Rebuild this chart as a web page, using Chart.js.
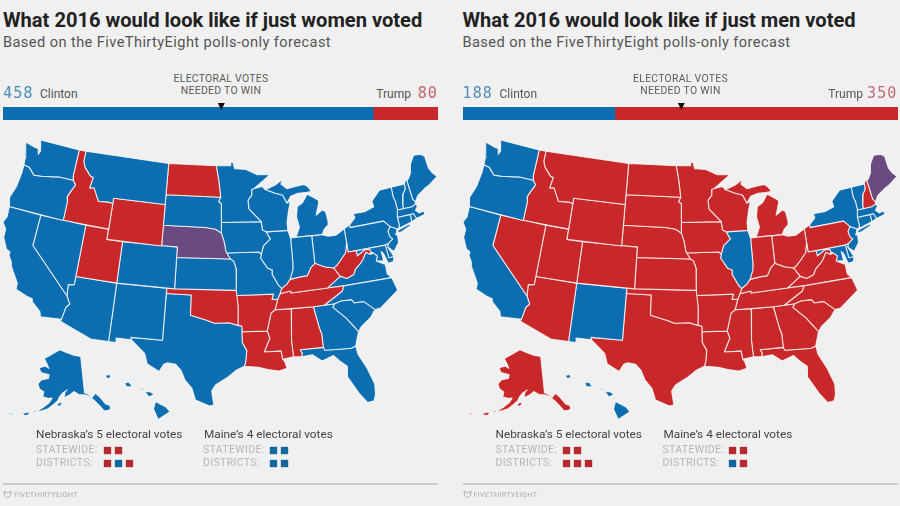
<!DOCTYPE html>
<html lang="en">
<head>
<meta charset="UTF-8">
<title>What 2016 would look like</title>
<style>
  html, body { margin: 0; padding: 0; background: #f0f0f0; }
  body { width: 900px; height: 506px; overflow: hidden; position: relative; font-family: Roboto, sans-serif; }
  .panel { position: absolute; top: 0; width: 440px; height: 506px; }
  .panel div, .panel canvas, .panel svg { position: absolute; white-space: nowrap; }
  .title { left: 3px; top: 7px; font-size: 20.1px; font-weight: 700; color: #222; line-height: 26px; }
  .sub { left: 3px; top: 33px; font-size: 14.6px; color: #555; letter-spacing: .42px; line-height: 18px; }
  .num { top: 84px; font-family: "DejaVu Sans Mono", monospace; font-size: 15px; letter-spacing: 1.1px; line-height: 18px; }
  .name { top: 87px; font-size: 12px; color: #555; line-height: 14px; }
  .needed { left: 151px; width: 140px; top: 73px; text-align: center; font-size: 10.4px; letter-spacing: .3px; color: #5c5c5c; line-height: 11.5px; }
  .lghead { top: 427px; font-size: 11.8px; color: #444; line-height: 14px; }
  .lgrow { font-size: 10.5px; color: #b5b5b5; letter-spacing: .35px; line-height: 12px; }
  .rule { left: 3px; top: 483px; width: 435px; height: 2px; background: #cbcbcb; }
  .brand { left: 14px; top: 490px; font-size: 7.4px; color: #aaa; letter-spacing: .2px; line-height: 10px; }
</style>
</head>
<body>
<script src="https://cdn.jsdelivr.net/npm/chart.js"></script>
<script>
// state outlines, lon/lat pairs
const WA = [-124.7,48.4,-123.2,48.15,-122.75,48.15,-122.5,47.6,-122.35,47.95,-122.5,48.5,-122.8,49,-117.03,49,-117.04,46.42,-116.92,45.99,-118.98,46,-119.3,45.93,-121.2,45.65,-122.3,45.55,-122.8,45.9,-123.2,46.15,-124,46.25,-124.1,46.9]
const OR = [-124,46.25,-123.2,46.15,-122.8,45.9,-122.3,45.55,-121.2,45.65,-119.3,45.93,-118.98,46,-116.92,45.99,-116.46,45.6,-116.85,45,-117.22,44.3,-117.03,43.8,-117.03,42,-124.21,42,-124.55,42.84,-124.1,44,-123.95,45.5]
const CA = [-124.21,42,-120,42,-120,39,-114.63,35,-114.13,34.3,-114.5,33.9,-114.72,32.72,-117.12,32.53,-117.3,33,-118.4,33.75,-118.5,34.03,-119.2,34.15,-120.6,34.55,-120.65,35.15,-121.9,36.6,-122,36.95,-122.5,37.5,-122.5,37.85,-123,38,-123.75,39,-123.8,39.8,-124.4,40.4,-124.1,41]
const NV = [-120,42,-114.04,42,-114.04,36.2,-114.74,36.1,-114.63,35,-120,39]
const ID = [-117.03,49,-116.05,49,-116.05,48,-115.7,47.45,-114.7,46.7,-114.3,46.65,-114.5,45.55,-113.9,45.65,-113.45,45.05,-113,44.45,-111.5,44.55,-111.05,44.48,-111.05,42,-117.03,42,-117.03,43.8,-117.22,44.3,-116.85,45,-116.46,45.6,-116.92,45.99,-117.04,46.42]
const MT = [-116.05,49,-104.05,49,-104.05,45,-111.05,45,-111.05,44.48,-111.5,44.55,-113,44.45,-113.45,45.05,-113.9,45.65,-114.5,45.55,-114.3,46.65,-114.7,46.7,-115.7,47.45,-116.05,48]
const WY = [-111.05,45,-104.05,45,-104.05,41,-111.05,41]
const UT = [-114.04,42,-111.05,42,-111.05,41,-109.05,41,-109.05,37,-114.04,37]
const CO = [-109.05,41,-102.05,41,-102.05,37,-109.05,37]
const AZ = [-114.04,37,-109.05,37,-109.05,31.33,-111.07,31.33,-114.8,32.5,-114.72,32.72,-114.5,33.9,-114.13,34.3,-114.63,35,-114.74,36.1,-114.04,36.2]
const NM = [-109.05,37,-103,37,-103.04,32,-106.62,32,-106.53,31.78,-108.2,31.78,-108.2,31.33,-109.05,31.33]
const ND = [-104.05,49,-97.23,49,-96.85,47.6,-96.56,45.94,-104.05,45.94]
const SD = [-104.05,45.94,-96.56,45.94,-96.85,45.5,-96.45,45.3,-96.45,42.49,-97.2,42.85,-98.5,43,-104.05,43]
const NE = [-104.05,43,-98.5,43,-97.2,42.85,-96.45,42.49,-96.1,41.7,-95.85,40.7,-95.31,40,-102.05,40,-102.05,41,-104.05,41]
const KS = [-102.05,40,-95.31,40,-94.9,39.8,-94.61,39.1,-94.62,37,-102.05,37]
const OK = [-103,37,-94.62,37,-94.43,35.4,-94.48,33.64,-95.5,33.9,-97.2,33.85,-98.1,34.13,-100,34.56,-100,36.5,-103,36.5]
const TX = [-103,36.5,-100,36.5,-100,34.56,-98.1,34.13,-97.2,33.85,-95.5,33.9,-94.48,33.64,-94.04,33.55,-94.04,31.99,-93.55,31.2,-93.7,30.1,-93.85,29.7,-94.7,29.35,-95.6,28.7,-97,27.9,-97.4,27.3,-97.15,25.96,-97.6,25.85,-99.1,26.4,-99.5,27.5,-100.3,28.3,-100.8,29.25,-101.4,29.77,-102.3,29.88,-102.7,29.7,-103.15,28.98,-104.5,29.6,-104.9,30.6,-106.53,31.78,-106.62,32,-103.04,32]
const MN = [-97.23,49,-95.15,49,-95.15,49.38,-94.8,49.3,-94.6,48.72,-93,48.6,-91.4,48.05,-89.6,48,-92,46.7,-92.3,46.65,-92.3,46.1,-92.85,45.6,-92.75,44.75,-91.2,43.5,-96.45,43.5,-96.45,45.3,-96.85,45.5,-96.56,45.94,-96.85,47.6]
const IA = [-96.45,43.5,-91.2,43.5,-91.1,42.7,-90.64,42.5,-90.15,41.8,-91.05,41.2,-91.4,40.4,-91.7,40.6,-95.77,40.58,-95.85,40.7,-96.1,41.7,-96.45,42.49]
const MO = [-95.77,40.58,-91.7,40.6,-91.4,40.4,-91.5,40,-90.7,39,-90.15,38.8,-90.2,38.4,-89.5,37.3,-89.15,36.98,-89.4,36.5,-89.7,36,-90.37,36,-90.15,36.5,-94.62,36.5,-94.62,37,-94.61,39.1,-94.9,39.8,-95.31,40]
const AR = [-94.62,36.5,-90.15,36.5,-90.37,36,-89.7,36,-90.1,35,-90.6,34.7,-91.15,33,-94.04,33.02,-94.04,33.55,-94.48,33.64,-94.43,35.4]
const LA = [-94.04,33.02,-91.15,33,-90.9,32.3,-91.6,31,-89.73,31,-89.6,30.2,-89.4,30,-89.2,29.3,-90.1,29.1,-91.3,29.3,-92.3,29.55,-93.85,29.7,-93.7,30.1,-93.55,31.2,-94.04,31.99]
const WI = [-92,46.7,-90.8,46.9,-90.4,46.55,-89.1,46.15,-88.1,45.9,-87.6,45.1,-87.1,45.3,-87.5,44.3,-87.8,43.3,-87.8,42.49,-90.64,42.5,-91.1,42.7,-91.2,43.5,-92.75,44.75,-92.85,45.6,-92.3,46.1,-92.3,46.65]
const IL = [-90.64,42.5,-87.8,42.49,-87.53,41.7,-87.53,39.35,-87.6,38.7,-88.05,37.8,-88.45,37.4,-89.15,36.98,-89.5,37.3,-90.2,38.4,-90.15,38.8,-90.7,39,-91.5,40,-91.4,40.4,-91.05,41.2,-90.15,41.8]
const IN = [-87.53,41.7,-87.2,41.76,-84.8,41.76,-84.82,39.1,-85.4,38.7,-85.9,38,-86.8,37.95,-88.05,37.8,-87.6,38.7,-87.53,39.35]
const OH = [-84.8,41.72,-83.45,41.73,-82.7,41.5,-81.7,41.5,-80.52,41.98,-80.52,40.64,-80.85,39.7,-81.7,39,-82.2,38.6,-82.6,38.42,-83.7,38.65,-84.82,39.1]
const MI_LOWER = [-86.82,41.76,-83.45,41.73,-83.1,42.2,-82.5,42.6,-82.45,43,-82.6,43.9,-83,44.07,-83.9,43.65,-83.3,44.9,-83.4,45.1,-84.75,45.78,-85.5,45,-86.25,44.7,-86.5,43.7,-86.25,42.7]
const MI_UPPER = [-90.4,46.55,-89.1,46.15,-88.1,45.9,-87.6,45.1,-87,45.75,-86,45.95,-84.75,45.95,-84.1,46,-84.5,46.45,-85,46.75,-86.1,46.65,-87.4,46.5,-88.2,47,-87.9,47.45,-89,46.95]
const KY = [-89.15,36.98,-88.45,37.4,-88.05,37.8,-86.8,37.95,-85.9,38,-85.4,38.7,-84.82,39.1,-83.7,38.65,-82.6,38.42,-81.97,37.54,-83.68,36.6,-88.07,36.5,-88.07,36.68,-89.4,36.5]
const TN = [-90.1,35,-89.7,36,-89.4,36.5,-88.07,36.68,-88.07,36.5,-83.68,36.6,-81.68,36.59,-82,36.1,-84.32,35,-85.6,34.98,-88.2,35]
const MS = [-90.1,35,-88.2,35,-88.47,31.9,-88.4,30.37,-89.6,30.2,-89.73,31,-91.6,31,-90.9,32.3,-91.15,33,-90.6,34.7]
const AL = [-88.2,35,-85.6,34.98,-85.18,32.87,-85,32.3,-85,31,-87.6,31,-87.4,30.65,-87.5,30.3,-88.4,30.37,-88.47,31.9]
const GA = [-85.6,34.98,-83.1,35,-83.35,34.7,-82,33.5,-81.2,32.5,-80.85,32.03,-81.4,30.72,-82,30.55,-82.2,30.57,-84.86,30.7,-85,31,-85,32.3,-85.18,32.87]
const FL = [-87.6,31,-85,31,-84.86,30.7,-82.2,30.57,-82,30.55,-81.4,30.72,-81.3,29.9,-80.55,28.4,-80.03,26.8,-80.15,25.75,-80.4,25.2,-81.1,25.13,-81.8,26.1,-82.75,27.8,-82.65,28.9,-83.4,29.5,-84,30.1,-85.3,29.7,-86.3,30.4,-87.5,30.3,-87.4,30.65]
const SC = [-83.35,34.7,-83.1,35,-82.3,35.2,-81.05,35.15,-80.8,34.82,-79.67,34.8,-78.55,33.86,-79.2,33.2,-80.4,32.5,-80.85,32.03,-81.2,32.5,-82,33.5]
const NC = [-84.32,35,-82,36.1,-81.68,36.59,-75.87,36.55,-75.5,35.25,-76.5,34.7,-77.9,33.9,-78.55,33.86,-79.67,34.8,-80.8,34.82,-81.05,35.15,-82.3,35.2,-83.1,35]
const VA = [-83.68,36.6,-81.97,37.54,-81.2,37.25,-80.3,37.5,-79.95,38,-79.3,38.42,-78.87,38.76,-78.35,39.39,-77.83,39.13,-77.45,39.2,-77.05,38.85,-77.3,38.4,-76.3,37.9,-76.3,37,-75.87,36.55,-81.68,36.59]
const WV = [-82.6,38.42,-82.2,38.6,-81.7,39,-80.85,39.7,-80.52,40.64,-80.52,39.72,-79.48,39.72,-79.48,39.2,-78.4,39.65,-77.83,39.6,-77.72,39.32,-77.83,39.13,-78.35,39.39,-78.87,38.76,-79.3,38.42,-79.95,38,-80.3,37.5,-81.2,37.25,-81.97,37.54]
const MD = [-79.48,39.72,-75.79,39.72,-75.7,38.46,-75.05,38.45,-75.25,38.03,-75.9,37.95,-76.2,38.9,-76.45,39.2,-76.4,38.3,-77.3,38.4,-77.05,38.85,-77.45,39.2,-77.72,39.32,-77.83,39.6,-78.4,39.65,-79.48,39.2]
const DE = [-75.79,39.72,-75.4,39.8,-75.55,39.5,-75.05,38.45,-75.7,38.46]
const PA = [-80.52,41.98,-79.76,42.27,-79.76,42,-75.35,42,-74.7,41.36,-75.1,40.95,-75,40.4,-74.72,40.15,-75.4,39.8,-75.79,39.72,-80.52,39.72,-80.52,40.64]
const NY = [-79.76,42.27,-78.9,42.85,-79.05,43.27,-77.5,43.25,-76.2,43.55,-76.3,44.1,-75,44.98,-73.35,45.01,-73.4,44,-73.25,43.55,-73.27,42.75,-73.5,42.05,-73.49,41.2,-73.73,40.98,-73.9,41,-74.7,41.36,-75.35,42,-79.76,42]
const LI = [-74.03,40.62,-73.75,40.85,-72.3,41.15,-71.9,41.05,-73.5,40.6]
const NJ = [-73.9,41,-74.03,40.7,-74.25,40.47,-74,40.4,-74.1,39.7,-74.9,38.95,-75.55,39.5,-75.4,39.8,-74.72,40.15,-75,40.4,-75.1,40.95,-74.7,41.36]
const CT = [-73.5,42.05,-71.8,42.02,-71.85,41.32,-73.73,40.98,-73.49,41.2]
const RI = [-71.8,42.02,-71.38,42.02,-71.15,41.5,-71.85,41.32]
const MA = [-73.5,42.05,-73.27,42.75,-72.46,42.73,-71.3,42.7,-70.8,42.87,-70.6,42.65,-71,42.3,-70.6,41.95,-70.05,42.05,-69.95,41.7,-71.15,41.5,-71.38,42.02,-71.8,42.02]
const VT = [-73.35,45.01,-71.5,45.01,-71.6,44.5,-72.05,44.1,-72.45,43.1,-72.46,42.73,-73.27,42.75,-73.25,43.55,-73.4,44]
const NH = [-71.5,45.01,-71.3,45.3,-71.08,45.3,-70.98,43.4,-70.7,43.07,-70.8,42.87,-71.3,42.7,-72.46,42.73,-72.45,43.1,-72.05,44.1,-71.6,44.5]
const ME = [-71.08,45.3,-70.8,45.4,-70.3,45.9,-70,46.7,-69.23,47.46,-68.3,47.36,-67.79,47.07,-67.78,45.9,-67.45,45.3,-67,44.85,-68.3,44.3,-69,44.1,-70.2,43.6,-70.7,43.07,-70.98,43.4]
const DC = [-77.12,38.93,-77.03,39,-76.92,38.89,-77.04,38.8]
const AK = [-141,69.65,-141,60.3,-139.5,59.9,-137.5,58.9,-135.5,59.8,-133.8,58.7,-131.8,56.6,-130,55.9,-130.2,55,-131.5,54.8,-133.2,55,-134.5,56.3,-136.5,57.9,-138.5,59.1,-140.5,59.7,-144,60,-146.5,60.8,-148.5,60,-151.5,59.2,-151,60.8,-150,61.2,-152.5,60.3,-153.8,59.3,-154.5,58.3,-156.5,57.1,-158.5,56,-161,55.2,-163.5,54.7,-161,56,-158.5,57.5,-157.3,58.8,-159,58.6,-162,58.7,-162,60,-164.5,60.5,-166,61.6,-164.8,62.8,-161,63.6,-161,64.5,-166,64.6,-168,65.6,-164.5,66.5,-162,66.1,-163.5,67,-166.5,68.3,-163,69.5,-160,70.4,-156.5,71.3,-152,70.8,-146,70.1]
const AK_KODIAK = [-154.6,57.4,-153,58.1,-152.2,57.6,-153.8,56.8]
const AK_UNIMAK = [-164.9,54.6,-163.6,55.05,-163.3,54.7,-164.5,54.3]
const AK_FOX = [-169,53.3,-167,54,-166,53.9,-166.5,53.3,-168,52.9]
const AK_ALEUT = [-174.5,52.2,-173,52.4,-172,52.4,-173,52,-174.5,51.9]
const HI_BIG = [-155.9,20.25,-155.1,19.85,-154.8,19.5,-155.7,18.95,-156.05,19.7]
const HI_MAUI = [-156.7,20.95,-156.3,20.95,-156,20.75,-156.4,20.58]
const HI_MOLOKAI = [-157.3,21.2,-156.75,21.15,-156.9,21.05]
const HI_OAHU = [-158.25,21.55,-157.95,21.7,-157.65,21.3,-158.1,21.3]
const HI_KAUAI = [-159.75,22.1,-159.4,22.2,-159.3,21.95,-159.6,21.9]

const lower48 = [['WA',WA],['OR',OR],['CA',CA],['NV',NV],['ID',ID],['MT',MT],['WY',WY],['UT',UT],['CO',CO],['AZ',AZ],['NM',NM],['ND',ND],['SD',SD],['NE',NE],['KS',KS],['OK',OK],['TX',TX],['MN',MN],['IA',IA],['MO',MO],['AR',AR],['LA',LA],['WI',WI],['IL',IL],['IN',IN],['OH',OH],['MI',MI_LOWER],['MI',MI_UPPER],['KY',KY],['TN',TN],['MS',MS],['AL',AL],['GA',GA],['FL',FL],['SC',SC],['NC',NC],['VA',VA],['WV',WV],['MD',MD],['DE',DE],['PA',PA],['NY',NY],['NY',LI],['NJ',NJ],['CT',CT],['RI',RI],['MA',MA],['VT',VT],['NH',NH],['ME',ME],['DC',DC]]
const alaskaParts = [AK,AK_KODIAK,AK_UNIMAK,AK_FOX,AK_ALEUT]
const hawaiiParts = [HI_BIG,HI_MAUI,HI_MOLOKAI,HI_OAHU,HI_KAUAI]

// who wins what
const womenTrumpStates = ['ID','WY','UT','ND','OK','AR','LA','MS','AL','TN','KY','WV']
const womenSplitStates = ['NE']
const menClintonStates = ['WA','OR','CA','NM','IL','NY','VT','MA','CT','RI','NJ','DE','MD','DC','HI']
const menSplitStates = ['ME']

const panelTitles = ['What 2016 would look like if just women voted', 'What 2016 would look like if just men voted']
const panelLefts = [0, 459.5]
const clintonVotes = [458, 188]
const trumpVotes = [80, 350]
const votesToWin = 270

const neStatewide = [['R','R'], ['R','R']]
const neDistricts = [['R','B','R'], ['R','R','R']]
const meStatewide = [['B','B'], ['R','R']]
const meDistricts = [['B','B'], ['B','R']]

const BLUE = '#0c6db0'
const RED = '#c9282a'
const PURPLE = '#6a4a80'
const cellColors = { R: '#b5292f', B: '#14689f' }

function albers(lon, lat, lon0, lat0, p1, p2) {
  const r = Math.PI / 180
  const n = (Math.sin(p1 * r) + Math.sin(p2 * r)) / 2
  const c = Math.cos(p1 * r) ** 2 + 2 * n * Math.sin(p1 * r)
  const rho = Math.sqrt(c - 2 * n * Math.sin(lat * r)) / n
  const rho0 = Math.sqrt(c - 2 * n * Math.sin(lat0 * r)) / n
  const th = n * (lon - lon0) * r
  return [rho * Math.sin(th), rho0 - rho * Math.cos(th)]
}

function toPairs(flat, fn) {
  const out = []
  for (let i = 0; i < flat.length; i += 2) out.push(fn(flat[i], flat[i + 1]))
  out.push(out[0])
  return out
}

// fit lower 48 into the box the reference map sits in
const mainProj = (a, b) => albers(a, b, -96, 37.5, 29.5, 45.5)
let bx0 = 9, bx1 = -9, by0 = 9, by1 = -9
lower48.forEach(s => toPairs(s[1], mainProj).forEach(p => {
  bx0 = Math.min(bx0, p[0]); bx1 = Math.max(bx1, p[0])
  by0 = Math.min(by0, p[1]); by1 = Math.max(by1, p[1])
}))
const mapBox = { left: 3, right: 437, top: 140, bottom: 406 }
const kx = (mapBox.right - mapBox.left) / (bx1 - bx0)
const ky = (mapBox.bottom - mapBox.top) / (by1 - by0)
const mainPoint = (a, b) => {
  const p = mainProj(a, b)
  return { x: mapBox.left + (p[0] - bx0) * kx, y: mapBox.bottom - (p[1] - by0) * ky }
}
const akPoint = (a, b) => {
  const p = albers(a, b, -148, 64, 55, 65)
  return { x: 71 + p[0] * 225, y: 379 - p[1] * 225 }
}
const hiPoint = (a, b) => {
  const p = albers(a, b, -157, 20.5, 8, 18)
  return { x: 141 + p[0] * 800, y: 398 - p[1] * 800 }
}

function stateColor(code, panel) {
  if (panel === 0) {
    if (womenSplitStates.includes(code)) return PURPLE
    return womenTrumpStates.includes(code) ? RED : BLUE
  }
  if (menSplitStates.includes(code)) return PURPLE
  return menClintonStates.includes(code) ? BLUE : RED
}

// the line controller only strokes, so fill each closed outline from its own parsed points
const fillOutline = {
  id: 'fillOutline',
  beforeDatasetDraw(chart, args) {
    const pts = args.meta.data
    const ctx = chart.ctx
    ctx.save()
    ctx.beginPath()
    pts.forEach((p, i) => i ? ctx.lineTo(p.x, p.y) : ctx.moveTo(p.x, p.y))
    ctx.closePath()
    ctx.fillStyle = chart.data.datasets[args.index].backgroundColor
    ctx.fill()
    ctx.restore()
  }
}

const winMarker = {
  id: 'winMarker',
  afterDraw(chart) {
    const ctx = chart.ctx
    const x = chart.scales.x.getPixelForValue(votesToWin)
    const y = chart.chartArea.top
    ctx.fillStyle = '#111'
    ctx.beginPath()
    ctx.moveTo(x - 3.5, y - 4)
    ctx.lineTo(x + 3.5, y - 4)
    ctx.lineTo(x, y + 3)
    ctx.closePath()
    ctx.fill()
  }
}

function drawMap(canvas, panel) {
  const sets = []
  const add = (data, color) => sets.push({
    data, backgroundColor: color, borderColor: 'rgba(255,255,255,.78)', borderWidth: 1.1,
    showLine: true, pointRadius: 0, tension: 0, fill: false, borderJoinStyle: 'round'
  })
  lower48.forEach(s => add(toPairs(s[1], mainPoint), stateColor(s[0], panel)))
  alaskaParts.forEach(p => add(toPairs(p, akPoint), stateColor('AK', panel)))
  hawaiiParts.forEach(p => add(toPairs(p, hiPoint), stateColor('HI', panel)))
  new Chart(canvas, {
    type: 'scatter',
    data: { datasets: sets },
    plugins: [fillOutline],
    options: {
      responsive: false, animation: false,
      plugins: { legend: { display: false }, tooltip: { enabled: false } },
      layout: { padding: 0, autoPadding: false },
      scales: {
        x: { type: 'linear', display: false, min: 0, max: 450 },
        y: { type: 'linear', display: false, min: 0, max: 506, reverse: true }
      }
    }
  })
}

function drawVotes(canvas, panel) {
  new Chart(canvas, {
    type: 'bar',
    data: {
      labels: ['votes'],
      datasets: [
        { data: [clintonVotes[panel]], backgroundColor: BLUE },
        { data: [trumpVotes[panel]], backgroundColor: RED }
      ]
    },
    plugins: [winMarker],
    options: {
      indexAxis: 'y', responsive: false, animation: false,
      barPercentage: 1, categoryPercentage: 1,
      plugins: { legend: { display: false }, tooltip: { enabled: false } },
      layout: { padding: { top: 7 } },
      scales: {
        x: { display: false, stacked: true, min: 0, max: clintonVotes[panel] + trumpVotes[panel] },
        y: { display: false, stacked: true }
      }
    }
  })
}

function drawCells(canvas, topRow, bottomRow) {
  const pts = []
  const colors = []
  const put = (row, y) => row.forEach((c, i) => {
    pts.push({ x: i + 0.5, y })
    colors.push(cellColors[c])
  })
  put(topRow, 1)
  put(bottomRow, 0)
  new Chart(canvas, {
    type: 'scatter',
    data: { datasets: [{ data: pts, pointStyle: 'rect', pointRadius: 5.2, pointBorderWidth: 0, pointBackgroundColor: colors, clip: false }] },
    options: {
      responsive: false, animation: false,
      plugins: { legend: { display: false }, tooltip: { enabled: false } },
      layout: { autoPadding: false },
      scales: {
        x: { type: 'linear', display: false, min: 0, max: 3 },
        y: { type: 'linear', display: false, min: -0.5, max: 1.5 }
      }
    }
  })
}

panelTitles.forEach((title, i) => {
  const el = document.createElement('div')
  el.className = 'panel'
  el.style.left = panelLefts[i] + 'px'
  el.innerHTML = `
    <div class="title">${title}</div>
    <div class="sub">Based on the FiveThirtyEight polls-only forecast</div>
    <div class="num" style="left:3px;color:#4b8fb4">${clintonVotes[i]}</div>
    <div class="name" style="left:40px">Clinton</div>
    <div class="needed">ELECTORAL VOTES<br>NEEDED TO WIN</div>
    <div class="name" style="right:${i ? 36.5 : 29}px;left:auto">Trump</div>
    <div class="num" style="right:2px;left:auto;color:#c26a70">${trumpVotes[i]}</div>
    <canvas class="map" width="450" height="506" style="left:0;top:0"></canvas>
    <canvas class="votes" width="435" height="20" style="left:3px;top:100px"></canvas>
    <div class="lghead" style="left:36px">Nebraska\u2019s 5 electoral votes</div>
    <div class="lghead" style="left:204px">Maine\u2019s 4 electoral votes</div>
    <div class="lgrow" style="left:36px;top:444px">STATEWIDE:</div>
    <div class="lgrow" style="left:36px;top:457px">DISTRICTS:</div>
    <div class="lgrow" style="left:203px;top:444px">STATEWIDE:</div>
    <div class="lgrow" style="left:203px;top:457px">DISTRICTS:</div>
    <canvas class="ne" width="33" height="26" style="left:101.5px;top:443.5px"></canvas>
    <canvas class="me" width="33" height="26" style="left:267.5px;top:443.5px"></canvas>
    <div class="rule"></div>
    <svg width="9" height="9" viewBox="0 0 9 9" style="left:3px;top:490px"><path d="M1 1 L4.5 3 L8 1 L7.5 5.5 L4.5 8 L1.5 5.5 Z" fill="none" stroke="#aaa" stroke-width="1"/></svg>
    <div class="brand">FIVETHIRTYEIGHT</div>`
  document.body.appendChild(el)
  drawMap(el.querySelector('.map'), i)
  drawVotes(el.querySelector('.votes'), i)
  drawCells(el.querySelector('.ne'), neStatewide[i], neDistricts[i])
  drawCells(el.querySelector('.me'), meStatewide[i], meDistricts[i])
})
</script>
</body>
</html>
